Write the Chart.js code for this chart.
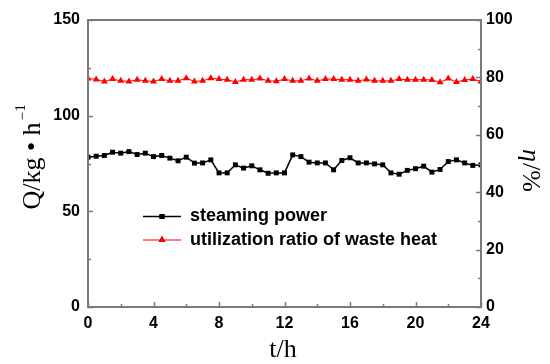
<!DOCTYPE html>
<html>
<head>
<meta charset="utf-8">
<script src="https://cdn.jsdelivr.net/npm/chart.js@4.4.0/dist/chart.umd.min.js"></script>
<style>
html, body { margin: 0; padding: 0; background: #fff; }
#wrap { width: 550px; height: 364px; }
</style>
</head>
<body>
<div id="wrap"><canvas id="chart" width="550" height="364"></canvas></div>
<script>
// time axis (h)
const hours = [0, 0.5, 1, 1.5, 2, 2.5, 3, 3.5, 4, 4.5, 5, 5.5, 6, 6.5, 7, 7.5, 8, 8.5, 9, 9.5,
    10, 10.5, 11, 11.5, 12, 12.5, 13, 13.5, 14, 14.5, 15, 15.5, 16, 16.5, 17, 17.5, 18, 18.5, 19, 19.5,
    20, 20.5, 21, 21.5, 22, 22.5, 23, 23.5, 24];

// Q, kg/h (left axis)
const steamingPower = [78.3, 78.8, 79.2, 80.9, 80.4, 81.2, 79.7, 80.4, 78.6, 79.2,
    77.8, 76.4, 78.3, 75.2, 75.3, 76.9, 70.1, 70.1, 74.3, 72.6,
    73.8, 71.7, 69.9, 70.1, 70.1, 79.5, 78.6, 75.7, 75.3, 75.3,
    71.7, 76.6, 78.0, 75.3, 75.3, 74.8, 74.3, 70.1, 69.4, 71.4,
    72.3, 73.6, 70.5, 71.9, 76.0, 76.9, 75.3, 74.0, 74.3];

// eta, % (right axis)
const wasteHeatRatio = [79.6, 79.3, 78.6, 79.4, 78.8, 78.6, 79.2, 78.8, 78.6, 79.4,
    78.8, 78.8, 79.7, 78.6, 78.8, 79.7, 79.4, 79.2, 78.4, 79.2,
    79.2, 79.6, 78.8, 78.7, 79.4, 78.8, 78.8, 79.6, 78.8, 79.4,
    79.4, 79.2, 79.2, 78.8, 79.3, 78.8, 78.8, 78.8, 79.4, 79.2,
    79.2, 79.2, 79.1, 78.3, 79.6, 78.4, 79.1, 79.4, 78.6];

const seriesNames = ['steaming power', 'utilization ratio of waste heat'];
const xRange = [0, 24], xMajor = 4, xMinor = 2;
const yRange = [0, 150], yMajor = 50, yMinor = 25;
const y1Range = [0, 100], y1Major = 20, y1Minor = 10;

const tickFont = { family: 'Liberation Sans, Arial, sans-serif', size: 16, weight: 'bold' };
const serif = 'Liberation Serif, "Times New Roman", serif';

function pairs(ys) {
    return hours.map((h, i) => ({ x: h, y: ys[i] }));
}

// inward ticks + gray frame
const framePlugin = {
    id: 'frame',
    afterDatasetsDraw(chart) {
        const { ctx, chartArea: a, scales } = chart;
        ctx.save();
        ctx.strokeStyle = '#7a7a7a';
        ctx.lineWidth = 1.5;
        ctx.beginPath();
        for (let v = xRange[0]; v <= xRange[1]; v += xMinor) {
            const px = Math.round(scales.x.getPixelForValue(v)) + 0.5;
            const len = v % xMajor === 0 ? 5 : 3;
            ctx.moveTo(px, a.bottom);
            ctx.lineTo(px, a.bottom - len);
        }
        for (let v = yRange[0]; v <= yRange[1]; v += yMinor) {
            const py = Math.round(scales.y.getPixelForValue(v)) + 0.5;
            const len = v % yMajor === 0 ? 5 : 3;
            ctx.moveTo(a.left, py);
            ctx.lineTo(a.left + len, py);
        }
        for (let v = y1Range[0]; v <= y1Range[1]; v += y1Minor) {
            const py = Math.round(scales.y1.getPixelForValue(v)) + 0.5;
            const len = v % y1Major === 0 ? 5 : 3;
            ctx.moveTo(a.right, py);
            ctx.lineTo(a.right - len, py);
        }
        ctx.stroke();
        ctx.lineWidth = 2;
        ctx.strokeRect(a.left, a.top, a.right - a.left, a.bottom - a.top);
        ctx.restore();
    },
    afterDraw(chart) {
        const ctx = chart.ctx;
        ctx.save();
        ctx.fillStyle = '#000';

        // legend
        const rows = [
            { y: 216.5, color: '#000', style: 'rect', r: 3.5 },
            { y: 240, color: '#ff0000', style: 'triangle', r: 4 }
        ];
        rows.forEach((row, i) => {
            ctx.strokeStyle = row.color;
            ctx.lineWidth = i === 0 ? 1.5 : 1;
            ctx.beginPath();
            ctx.moveTo(143, row.y);
            ctx.lineTo(181, row.y);
            ctx.stroke();
            Chart.helpers.drawPoint(ctx, {
                pointStyle: row.style, radius: row.r, rotation: 0, borderWidth: 0
            }, 162, row.y);
            ctx.fillStyle = row.color;
            ctx.fill();
            ctx.fillStyle = '#000';
            ctx.font = 'bold 18px Liberation Sans, Arial, sans-serif';
            ctx.textBaseline = 'middle';
            ctx.textAlign = 'left';
            ctx.fillText(seriesNames[i], 190, row.y);
        });

        // x title
        ctx.font = '26px ' + serif;
        ctx.textAlign = 'center';
        ctx.textBaseline = 'middle';
        ctx.fillText('t/h', 283, 350);

        // left title, rotated, with superscript
        ctx.save();
        ctx.translate(31, 160);
        ctx.rotate(-Math.PI / 2);
        const main = 'Q/kg \u2022 h';
        ctx.font = '26px ' + serif;
        const w = ctx.measureText(main).width;
        ctx.textAlign = 'left';
        ctx.textBaseline = 'alphabetic';
        ctx.fillText(main, -w / 2 - 6, 9);
        ctx.font = '15px ' + serif;
        ctx.fillText('\u2212', w / 2 - 4, -4);
        ctx.fillText('1', w / 2 + 5, -6);
        ctx.restore();

        // right title, rotated clockwise
        ctx.save();
        ctx.translate(530, 170);
        ctx.rotate(Math.PI / 2);
        ctx.font = 'italic 26px ' + serif;
        const eta = '\u03B7';
        const ew = ctx.measureText(eta).width;
        ctx.font = '26px ' + serif;
        const rest = '/%';
        const rw = ctx.measureText(rest).width;
        const start = -(ew + rw) / 2;
        ctx.textAlign = 'left';
        ctx.textBaseline = 'middle';
        ctx.font = 'italic 26px ' + serif;
        ctx.fillText(eta, start, 0);
        ctx.font = '26px ' + serif;
        ctx.fillText(rest, start + ew + 1, 0);
        ctx.restore();

        ctx.restore();
    }
};

const ctx = document.getElementById('chart').getContext('2d');
const chart = new Chart(ctx, {
    type: 'line',
    data: {
        datasets: [{
            label: seriesNames[0],
            data: pairs(steamingPower),
            yAxisID: 'y',
            borderColor: '#000',
            backgroundColor: '#000',
            borderWidth: 1.5,
            pointStyle: 'rect',
            pointRadius: 3.5,
            pointBorderWidth: 0,
            tension: 0
        }, {
            label: seriesNames[1],
            data: pairs(wasteHeatRatio),
            yAxisID: 'y1',
            borderColor: '#ff0000',
            backgroundColor: '#ff0000',
            borderWidth: 1,
            pointStyle: 'triangle',
            pointRadius: 4,
            pointBorderWidth: 0,
            tension: 0
        }]
    },
    options: {
        responsive: false,
        animation: false,
        devicePixelRatio: 1,
        layout: { padding: { top: 20, left: 0, right: 0, bottom: 0 } },
        plugins: {
            legend: { display: false },
            tooltip: { enabled: false }
        },
        scales: {
            x: {
                type: 'linear',
                min: xRange[0], max: xRange[1],
                ticks: { stepSize: xMajor, color: '#000', font: tickFont, padding: 7, maxRotation: 0 },
                grid: { drawOnChartArea: false, drawTicks: false },
                border: { display: false },
                afterFit(scale) { scale.height = 57; }
            },
            y: {
                position: 'left',
                min: yRange[0], max: yRange[1],
                ticks: { stepSize: yMajor, color: '#000', font: tickFont, padding: 8 },
                grid: { drawOnChartArea: false, drawTicks: false },
                border: { display: false },
                afterFit(scale) { scale.width = 88; }
            },
            y1: {
                position: 'right',
                min: y1Range[0], max: y1Range[1],
                ticks: { stepSize: y1Major, color: '#000', font: tickFont, padding: 5 },
                grid: { drawOnChartArea: false, drawTicks: false },
                border: { display: false },
                afterFit(scale) { scale.width = 69; }
            }
        }
    },
    plugins: [framePlugin]
});
</script>
</body>
</html>
